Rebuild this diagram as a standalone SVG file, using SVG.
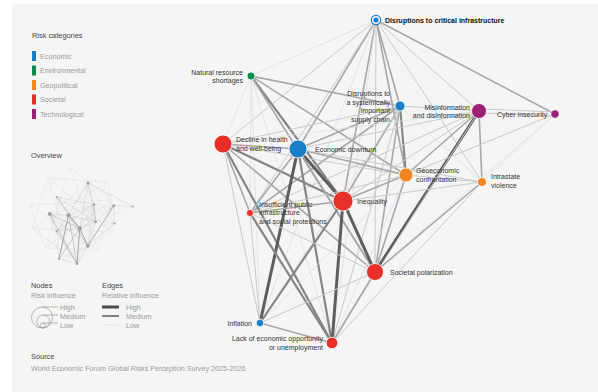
<svg xmlns="http://www.w3.org/2000/svg" xmlns:xlink="http://www.w3.org/1999/xlink" width="598" height="392" viewBox="0 0 598 392">
<style>
text{font-family:"Liberation Sans",Arial,sans-serif;font-size:7px;fill:#333}
.lg{fill:#9a9a9a;font-size:7.2px}
.hd{fill:#444;font-size:7.4px}
.b{font-weight:bold;fill:#111}
.e line{stroke-linecap:round}
.w1{stroke:#e0e0e0;stroke-width:.8}
.w2{stroke:#cacaca;stroke-width:1}
.w3{stroke:#a8a8a8;stroke-width:1.6}
.w4{stroke:#868686;stroke-width:2.2}
.w5{stroke:#5e5e5e;stroke-width:3}
.n{stroke:#fff;stroke-width:.8}
.ec{fill:#1b7fc8}.en{fill:#0b8a4b}.ge{fill:#f08521}.so{fill:#e8302b}.te{fill:#9a2173}
.ov{fill:none;stroke:#e4e4e4;stroke-width:.6}
</style>
<rect width="598" height="392" fill="#fff"/>
<rect x="12" y="4" width="586" height="388" fill="#f5f5f5"/>

<g id="legend-categories">
<text class="hd" x="32" y="38">Risk categories</text>
<rect class="ec" x="32" y="51" width="4" height="10"/><text class="lg" x="40" y="58.5">Economic</text>
<rect class="en" x="32" y="65.5" width="4" height="10"/><text class="lg" x="40" y="73">Environmental</text>
<rect class="ge" x="32" y="80" width="4" height="10"/><text class="lg" x="40" y="87.5">Geopolitical</text>
<rect class="so" x="32" y="94.5" width="4" height="10"/><text class="lg" x="40" y="102">Societal</text>
<rect class="te" x="32" y="109" width="4" height="10"/><text class="lg" x="40" y="116.5">Technological</text>
</g>

<g id="overview">
<text class="hd" x="31" y="158">Overview</text>
<g class="ov">
<path d="M70 167 L112 200 L98 250 L45 248 L30 205 Z"/>
<path d="M48 178 L108 182 L113 232 L70 257 L32 228 Z"/>
<path d="M70 167 L98 250 M112 200 L45 248 M98 250 L30 205 M45 248 L70 167 M30 205 L112 200"/>
<path d="M48 178 L113 232 M108 182 L70 257 M113 232 L32 228 M70 257 L48 178 M32 228 L108 182"/>
</g>
<use xlink:href="#edges" transform="translate(-6 178) scale(0.25)" opacity="0.7"/>
<g fill="#a0a0a0">
<circle cx="88" cy="183" r="1.5"/><circle cx="56.8" cy="197" r="1"/><circle cx="94" cy="204.5" r="1.2"/>
<circle cx="113.8" cy="205.8" r="1.5"/><circle cx="132.8" cy="206.5" r="1"/><circle cx="49.8" cy="214" r="2"/>
<circle cx="68.5" cy="215.3" r="2"/><circle cx="95.5" cy="221.8" r="1.5"/><circle cx="114.5" cy="223.5" r="1"/>
<circle cx="79.8" cy="228.3" r="2"/><circle cx="56.5" cy="231.3" r="1"/><circle cx="87.8" cy="246" r="1.8"/>
<circle cx="59" cy="258.8" r="1"/><circle cx="77" cy="263.8" r="1.3"/>
</g>
</g>

<g id="legend-nodes">
<text class="hd" x="31" y="288">Nodes</text>
<text class="lg" x="31" y="298">Risk influence</text>
<g fill="none" stroke="#9a9a9a" stroke-width=".7">
<circle cx="42" cy="317.5" r="10.5"/>
<circle cx="43.3" cy="321.5" r="6.5"/>
<circle cx="42.8" cy="325.5" r="2.5"/>
<path d="M42 307 H58 M43.3 315 H58 M42.8 323 H58"/>
</g>
<text class="lg" x="60" y="309.5">High</text>
<text class="lg" x="60" y="318.5">Medium</text>
<text class="lg" x="60" y="327.5">Low</text>
</g>

<g id="legend-edges">
<text class="hd" x="102" y="288">Edges</text>
<text class="lg" x="102" y="298">Relative influence</text>
<rect x="102" y="305.5" width="17" height="3" fill="#4a4a4a"/>
<rect x="102" y="315" width="17" height="2" fill="#808080"/>
<rect x="102" y="324.6" width="17" height=".7" fill="#dcdcdc"/>
<text class="lg" x="126" y="309.5">High</text>
<text class="lg" x="126" y="318.5">Medium</text>
<text class="lg" x="126" y="327.5">Low</text>
</g>

<g id="source">
<text class="hd" x="31" y="359">Source</text>
<text class="lg" x="31" y="371">World Economic Forum Global Risks Perception Survey 2025-2026</text>
</g>

<g id="edges" class="e">
<!-- A DCI 376,20 -->
<line class="w3" x1="376" y1="20" x2="555" y2="114"/>
<line class="w2" x1="376" y1="20" x2="479" y2="111"/>
<line class="w3" x1="376" y1="20" x2="400" y2="106"/>
<line class="w3" x1="376" y1="20" x2="406" y2="175"/>
<line class="w3" x1="376" y1="20" x2="298" y2="149"/>
<line class="w3" x1="376" y1="20" x2="343" y2="201"/>
<line class="w2" x1="376" y1="20" x2="375" y2="272"/>
<line class="w2" x1="376" y1="20" x2="250" y2="213"/>
<line class="w2" x1="376" y1="20" x2="223" y2="144"/>
<line class="w2" x1="376" y1="20" x2="482" y2="182"/>
<line class="w1" x1="376" y1="20" x2="260" y2="323"/>
<line class="w1" x1="376" y1="20" x2="332" y2="343"/>
<line class="w1" x1="376" y1="20" x2="251" y2="76"/>
<!-- B NRS 251,76 -->
<line class="w3" x1="251" y1="76" x2="400" y2="106"/>
<line class="w2" x1="251" y1="76" x2="298" y2="149"/>
<line class="w4" x1="251" y1="76" x2="343" y2="201"/>
<line class="w3" x1="251" y1="76" x2="406" y2="175"/>
<line class="w1" x1="251" y1="76" x2="250" y2="213"/>
<line class="w1" x1="251" y1="76" x2="223" y2="144"/>
<line class="w1" x1="251" y1="76" x2="260" y2="323"/>
<line class="w3" x1="251" y1="76" x2="375" y2="272"/>
<line class="w1" x1="251" y1="76" x2="332" y2="343"/>
<!-- C DSC 400,106 -->
<line class="w3" x1="400" y1="106" x2="298" y2="149"/>
<line class="w4" x1="400" y1="106" x2="406" y2="175"/>
<line class="w3" x1="400" y1="106" x2="343" y2="201"/>
<line class="w2" x1="400" y1="106" x2="479" y2="111"/>
<line class="w3" x1="400" y1="106" x2="375" y2="272"/>
<line class="w2" x1="400" y1="106" x2="332" y2="343"/>
<line class="w1" x1="400" y1="106" x2="260" y2="323"/>
<line class="w2" x1="400" y1="106" x2="223" y2="144"/>
<line class="w3" x1="400" y1="106" x2="250" y2="213"/>
<line class="w1" x1="400" y1="106" x2="482" y2="182"/>
<!-- D MIS 479,111 -->
<line class="w2" x1="482" y1="109" x2="555" y2="112"/>
<line class="w2" x1="482" y1="113" x2="555" y2="116"/>
<line class="w5" x1="479" y1="111" x2="375" y2="272"/>
<line class="w3" x1="479" y1="111" x2="406" y2="175"/>
<line class="w3" x1="479" y1="111" x2="482" y2="182"/>
<line class="w2" x1="479" y1="111" x2="343" y2="201"/>
<line class="w2" x1="479" y1="111" x2="298" y2="149"/>
<line class="w1" x1="479" y1="111" x2="332" y2="343"/>
<line class="w2" x1="479" y1="111" x2="250" y2="213"/>
<line class="w1" x1="479" y1="111" x2="223" y2="144"/>
<!-- E CYB 555,114 -->
<line class="w1" x1="555" y1="114" x2="482" y2="182"/>
<line class="w2" x1="555" y1="114" x2="406" y2="175"/>
<line class="w1" x1="555" y1="114" x2="375" y2="272"/>
<!-- F DHW 223,144 -->
<line class="w3" x1="223" y1="144" x2="298" y2="149"/>
<line class="w4" x1="223" y1="144" x2="343" y2="201"/>
<line class="w3" x1="223" y1="144" x2="250" y2="213"/>
<line class="w2" x1="223" y1="144" x2="260" y2="323"/>
<line class="w4" x1="223" y1="144" x2="332" y2="343"/>
<line class="w3" x1="223" y1="144" x2="375" y2="272"/>
<line class="w2" x1="223" y1="144" x2="406" y2="175"/>
<!-- G ECD 298,149 -->
<line class="w5" x1="298" y1="149" x2="343" y2="201"/>
<line class="w3" x1="298" y1="149" x2="406" y2="175"/>
<line class="w5" x1="298" y1="149" x2="260" y2="323"/>
<line class="w4" x1="298" y1="149" x2="332" y2="343"/>
<line class="w3" x1="298" y1="149" x2="250" y2="213"/>
<line class="w3" x1="298" y1="149" x2="375" y2="272"/>
<line class="w2" x1="298" y1="149" x2="482" y2="182"/>
<!-- H GEO 406,175 -->
<line class="w2" x1="406" y1="175" x2="482" y2="182"/>
<line class="w3" x1="406" y1="175" x2="343" y2="201"/>
<line class="w3" x1="406" y1="175" x2="375" y2="272"/>
<line class="w2" x1="406" y1="175" x2="250" y2="213"/>
<line class="w1" x1="406" y1="175" x2="260" y2="323"/>
<line class="w1" x1="406" y1="175" x2="332" y2="343"/>
<!-- I INV 482,182 -->
<line class="w3" x1="482" y1="182" x2="375" y2="272"/>
<line class="w2" x1="482" y1="182" x2="332" y2="343"/>
<line class="w2" x1="482" y1="182" x2="343" y2="201"/>
<!-- J INQ 343,201 -->
<line class="w5" x1="343" y1="201" x2="375" y2="272"/>
<line class="w5" x1="343" y1="201" x2="332" y2="343"/>
<line class="w4" x1="343" y1="201" x2="260" y2="323"/>
<line class="w3" x1="343" y1="201" x2="250" y2="213"/>
<!-- K IPI 250,213 -->
<line class="w4" x1="250" y1="213" x2="332" y2="343"/>
<line class="w2" x1="250" y1="213" x2="260" y2="323"/>
<line class="w2" x1="250" y1="213" x2="375" y2="272"/>
<!-- L SOC -->
<line class="w2" x1="375" y1="272" x2="260" y2="323"/>
<line class="w3" x1="375" y1="272" x2="332" y2="343"/>
<!-- M-N -->
<line class="w3" x1="260" y1="323" x2="332" y2="343"/>
</g>

<g id="n-dci"><circle cx="376" cy="20" r="4.6" fill="#fff" stroke="#1b7fc8" stroke-width="1.2"/><circle class="ec" cx="376" cy="20" r="2.6"/><text class="b" x="385" y="22.5">Disruptions to critical infrastructure</text></g>
<g id="n-nrs"><circle class="n en" cx="251" cy="76" r="4"/><text text-anchor="end" x="243" y="74.5">Natural resource</text><text text-anchor="end" x="243" y="83">shortages</text></g>
<g id="n-dsc"><circle class="n ec" cx="400" cy="106" r="5"/><text text-anchor="end" x="390" y="96">Disruptions to</text><text text-anchor="end" x="390" y="104.5">a systemically</text><text text-anchor="end" x="390" y="113">important</text><text text-anchor="end" x="390" y="121.5">supply chain</text></g>
<g id="n-mis"><circle class="n te" cx="479" cy="111" r="7.5"/><text text-anchor="end" x="470" y="109.5">Misinformation</text><text text-anchor="end" x="470" y="118">and disinformation</text></g>
<g id="n-cyb"><circle class="n te" cx="555" cy="114" r="4.2"/><text x="497" y="116.5">Cyber insecurity</text></g>
<g id="n-dhw"><circle class="n so" cx="223" cy="144" r="9"/><text x="236" y="142">Decline in health</text><text x="236" y="150.5">and well-being</text></g>
<g id="n-ecd"><circle class="n ec" cx="298" cy="149" r="9"/><text x="315" y="151.5">Economic downturn</text></g>
<g id="n-geo"><circle class="n ge" cx="406" cy="175" r="7"/><text x="416" y="173">Geoeconomic</text><text x="416" y="181.5">confrontation</text></g>
<g id="n-inv"><circle class="n ge" cx="482" cy="182" r="4.5"/><text x="491" y="179">Intrastate</text><text x="491" y="187.5">violence</text></g>
<g id="n-inq"><circle class="n so" cx="343" cy="201" r="10"/><text x="357" y="203.5">Inequality</text></g>
<g id="n-ipi"><circle class="n so" cx="250" cy="213" r="3.6"/><text x="259" y="206.5">Insufficient public</text><text x="259" y="215">infrastructure</text><text x="259" y="223.5">and social protections</text></g>
<g id="n-soc"><circle class="n so" cx="375" cy="272" r="8.5"/><text x="390" y="274.5">Societal polarization</text></g>
<g id="n-inf"><circle class="n ec" cx="260" cy="323" r="3.8"/><text text-anchor="end" x="252" y="325.5">Inflation</text></g>
<g id="n-leo"><circle class="n so" cx="332" cy="343" r="5.8"/><text text-anchor="end" x="323" y="341">Lack of economic opportunity</text><text text-anchor="end" x="323" y="349.5">or unemployment</text></g>
</svg>
